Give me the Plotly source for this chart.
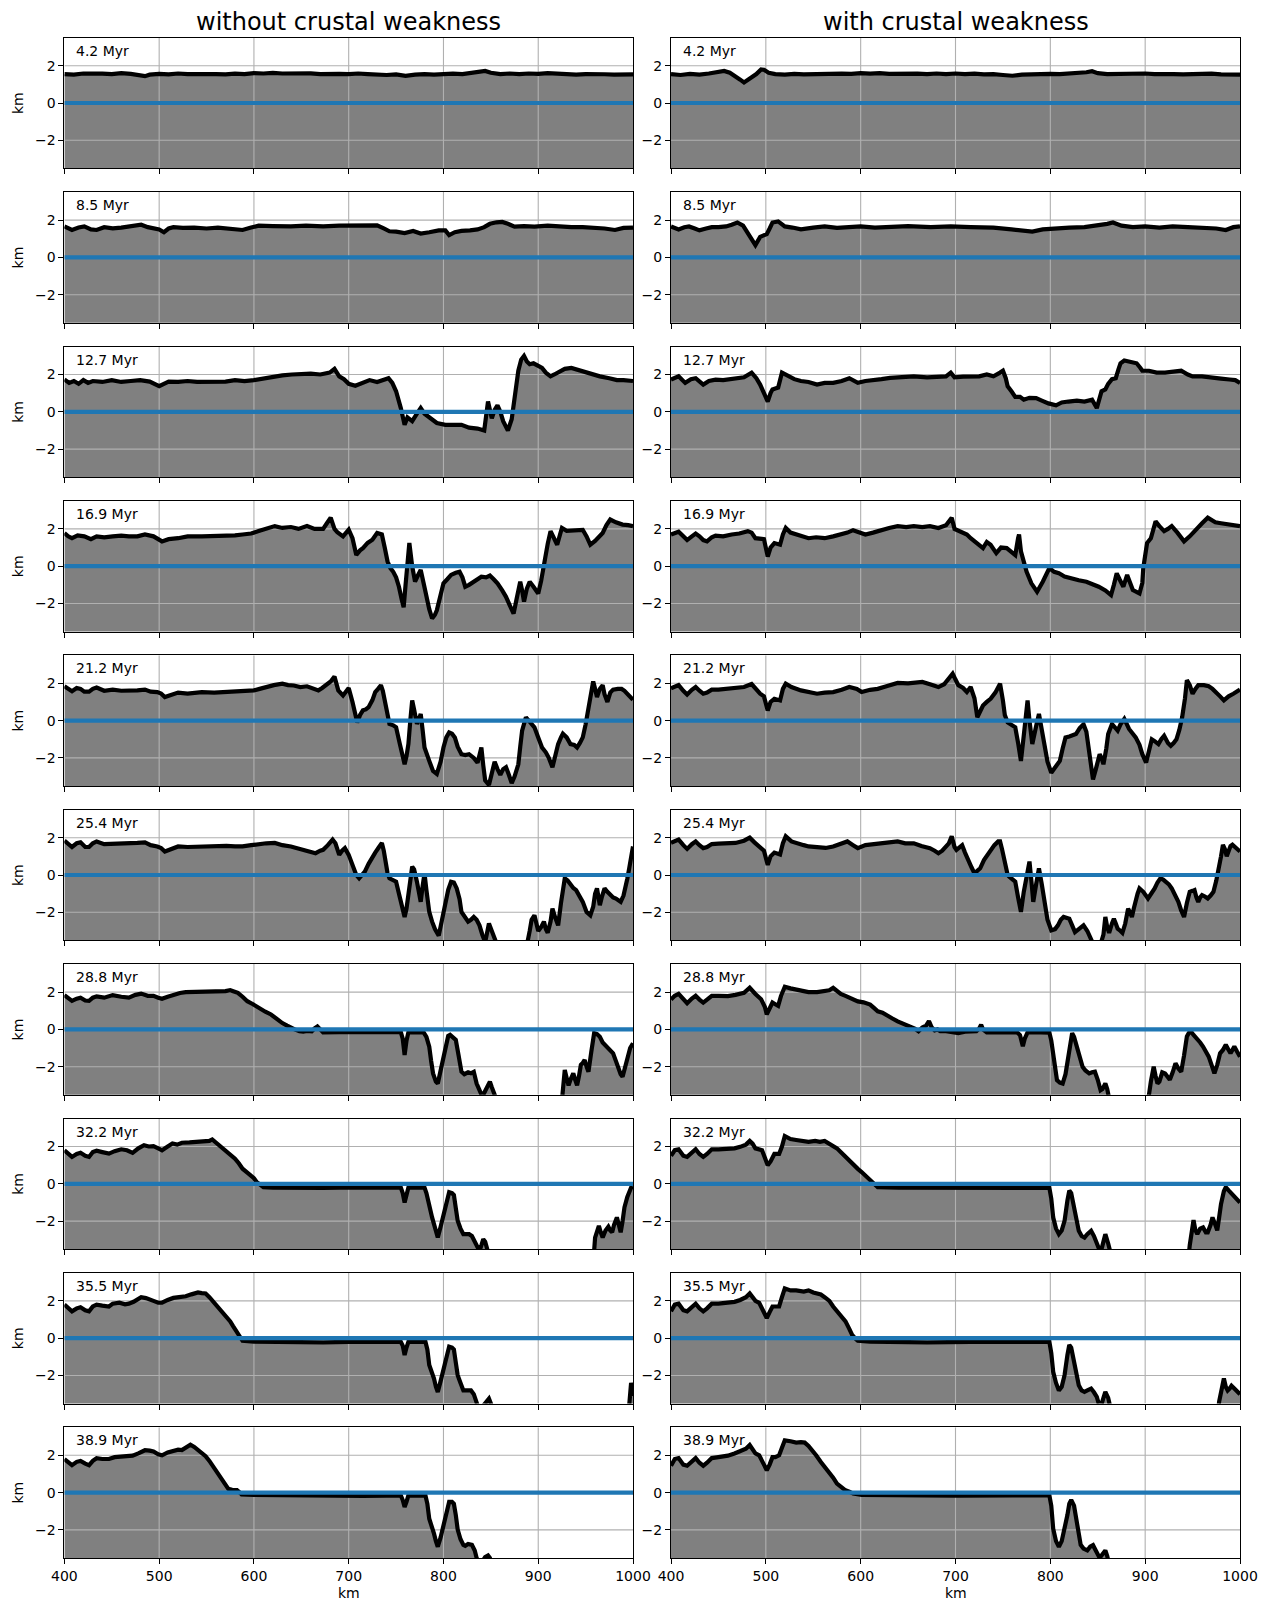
import plotly.graph_objects as go

# ---------------------------------------------------------------------------
# Topography profiles (distance km, elevation km) at successive model times
# ---------------------------------------------------------------------------
times = ["4.2 Myr", "8.5 Myr", "12.7 Myr", "16.9 Myr", "21.2 Myr",
         "25.4 Myr", "28.8 Myr", "32.2 Myr", "35.5 Myr", "38.9 Myr"]
column_titles = ["without crustal weakness", "with crustal weakness"]
x_ticks = [400, 500, 600, 700, 800, 900, 1000]
y_ticks = [-2, 0, 2]
y_ticktext = ["\u22122", "0", "2"]
sea_level = 0.0

left_4_2 = [(400,1.55),(410,1.52),(420,1.58),(430,1.55),(440,1.57),(450,1.55),(460,1.6),(470,1.56),(480,1.5),(485,1.44),(490,1.52),(500,1.56),(510,1.53),(520,1.58),(530,1.55),(540,1.56),(550,1.52),(560,1.55),(570,1.53),(580,1.57),(590,1.55),(600,1.6),(610,1.58),(620,1.61),(630,1.58),(640,1.6),(650,1.57),(660,1.59),(670,1.55),(680,1.58),(690,1.56),(700,1.55),(710,1.58),(720,1.55),(730,1.52),(740,1.5),(750,1.53),(760,1.46),(770,1.52),(780,1.55),(790,1.52),(800,1.55),(810,1.57),(820,1.55),(830,1.6),(838,1.66),(844,1.72),(850,1.62),(860,1.55),(870,1.58),(880,1.55),(890,1.58),(900,1.56),(910,1.6),(920,1.57),(930,1.55),(940,1.52),(950,1.55),(960,1.57),(970,1.54),(980,1.52),(990,1.55),(1000,1.53)]

right_4_2 = [(400,1.55),(410,1.5),(420,1.56),(430,1.52),(440,1.58),(448,1.64),(456,1.72),(462,1.62),(468,1.45),(473,1.25),(477,1.1),(481,1.22),(485,1.35),(490,1.55),(495,1.8),(498,1.78),(503,1.62),(510,1.55),(520,1.52),(530,1.56),(540,1.53),(550,1.55),(560,1.58),(570,1.55),(580,1.57),(590,1.56),(600,1.6),(610,1.57),(620,1.6),(630,1.56),(640,1.58),(650,1.55),(660,1.57),(670,1.55),(680,1.58),(690,1.55),(700,1.58),(710,1.55),(720,1.57),(730,1.53),(740,1.55),(750,1.5),(760,1.46),(770,1.52),(780,1.55),(790,1.53),(800,1.56),(810,1.55),(820,1.58),(830,1.6),(838,1.65),(844,1.7),(850,1.6),(860,1.55),(870,1.57),(880,1.54),(890,1.57),(900,1.58),(910,1.55),(920,1.57),(930,1.55),(940,1.53),(950,1.56),(960,1.55),(970,1.57),(980,1.53),(990,1.55),(1000,1.52)]

left_8_5 = [(400,1.66),(408,1.47),(415,1.6),(421,1.66),(428,1.5),(434,1.47),(442,1.62),(451,1.56),(460,1.6),(468,1.66),(475,1.7),(481,1.75),(488,1.62),(494,1.56),(500,1.5),(505,1.35),(510,1.55),(515,1.62),(525,1.58),(537,1.6),(550,1.55),(562,1.6),(575,1.55),(588,1.47),(597,1.6),(605,1.7),(620,1.68),(639,1.66),(655,1.7),(673,1.66),(690,1.7),(709,1.7),(720,1.68),(730,1.72),(737,1.55),(743,1.4),(750,1.38),(759,1.3),(768,1.42),(776,1.28),(785,1.35),(795,1.45),(802,1.45),(806,1.2),(812,1.35),(819,1.42),(828,1.45),(836,1.5),(843,1.62),(849,1.8),(856,1.88),(862,1.9),(868,1.8),(875,1.65),(885,1.68),(896,1.65),(910,1.7),(921,1.65),(935,1.62),(947,1.62),(960,1.6),(970,1.55),(981,1.47),(990,1.58),(1000,1.6)]

right_8_5 = [(400,1.66),(408,1.5),(414,1.62),(419,1.66),(425,1.55),(430,1.45),(437,1.55),(443,1.62),(450,1.62),(458,1.66),(464,1.75),(470,1.87),(476,1.7),(481,1.3),(485,1.0),(489,0.66),(494,1.1),(498,1.2),(501,1.25),(504,1.55),(507,1.87),(513,1.93),(520,1.66),(528,1.6),(537,1.5),(550,1.6),(562,1.66),(575,1.58),(588,1.62),(600,1.66),(615,1.6),(631,1.66),(650,1.68),(674,1.62),(695,1.66),(716,1.62),(740,1.6),(759,1.5),(770,1.45),(781,1.38),(792,1.5),(802,1.55),(820,1.6),(836,1.62),(850,1.7),(860,1.8),(866,1.87),(875,1.7),(887,1.62),(900,1.66),(915,1.6),(929,1.66),(945,1.62),(963,1.6),(975,1.55),(985,1.47),(993,1.62),(1000,1.66)]

left_12_7 = [(400,1.73),(405,1.55),(410,1.65),(415,1.5),(420,1.7),(425,1.55),(430,1.65),(440,1.6),(450,1.7),(460,1.6),(470,1.65),(480,1.7),(490,1.62),(500,1.37),(505,1.5),(510,1.62),(520,1.6),(530,1.65),(540,1.6),(550,1.62),(560,1.6),(570,1.62),(580,1.7),(590,1.65),(600,1.7),(610,1.8),(620,1.9),(630,1.95),(640,2.0),(650,2.02),(660,2.05),(670,2.0),(680,2.1),(685,2.3),(690,1.9),(695,1.75),(700,1.5),(707,1.4),(715,1.55),(722,1.7),(730,1.6),(737,1.7),(742,1.8),(746,1.55),(750,1.1),(755,0.2),(759,-0.7),(762,-0.3),(765,-0.45),(767,-0.5),(772,-0.1),(776,0.2),(780,-0.1),(785,-0.3),(793,-0.6),(802,-0.7),(810,-0.7),(819,-0.7),(827,-0.85),(836,-0.9),(843,-1.0),(845,-0.3),(847,0.55),(851,-0.35),(854,0.1),(857,0.35),(860,0.0),(863,-0.5),(868,-1.0),(872,-0.4),(874,0.35),(877,1.3),(879,2.2),(882,2.8),(885,3.0),(888,2.7),(891,2.55),(895,2.6),(900,2.45),(904,2.35),(908,2.1),(913,1.9),(917,2.0),(921,2.1),(928,2.3),(935,2.35),(941,2.25),(947,2.2),(955,2.05),(965,1.9),(975,1.8),(983,1.7),(990,1.7),(1000,1.65)]

right_12_7 = [(400,1.73),(408,1.9),(415,1.55),(421,1.75),(426,1.8),(430,1.6),(434,1.46),(440,1.65),(447,1.72),(455,1.7),(460,1.73),(470,1.78),(477,1.85),(485,2.1),(490,1.8),(494,1.46),(498,1.0),(502,0.55),(505,1.0),(507,1.2),(510,1.25),(513,1.3),(517,2.1),(524,1.9),(530,1.75),(537,1.65),(545,1.6),(554,1.46),(562,1.55),(571,1.55),(580,1.65),(588,1.8),(597,1.55),(605,1.65),(614,1.73),(622,1.75),(631,1.82),(645,1.85),(656,1.9),(670,1.85),(682,1.88),(690,1.9),(695,2.1),(699,1.85),(708,1.88),(716,1.88),(725,1.9),(733,2.0),(740,1.9),(747,2.1),(750,2.2),(753,1.8),(755,1.37),(759,1.1),(763,0.8),(768,0.8),(772,0.65),(778,0.75),(785,0.73),(791,0.6),(798,0.45),(806,0.35),(812,0.5),(819,0.55),(828,0.6),(836,0.55),(844,0.65),(849,0.2),(852,0.8),(854,1.1),(858,1.2),(861,1.5),(865,1.75),(869,1.8),(872,2.3),(874,2.6),(878,2.75),(882,2.7),(886,2.65),(891,2.6),(895,2.35),(897,2.2),(904,2.2),(912,2.1),(921,2.1),(930,2.15),(938,2.2),(945,2.0),(950,1.9),(960,1.9),(972,1.8),(980,1.78),(989,1.73),(995,1.7),(1000,1.55)]

left_16_9 = [(400,1.78),(404,1.6),(408,1.5),(414,1.65),(421,1.6),(428,1.45),(434,1.6),(442,1.55),(451,1.6),(460,1.64),(468,1.6),(477,1.6),(485,1.7),(494,1.6),(503,1.33),(510,1.45),(520,1.5),(530,1.6),(545,1.6),(560,1.62),(571,1.6),(580,1.65),(588,1.7),(597,1.75),(605,1.88),(614,2.0),(622,2.15),(630,2.05),(639,2.1),(647,2.0),(656,2.15),(664,2.0),(673,2.0),(677,2.3),(681,2.6),(685,2.0),(688,1.82),(694,1.6),(700,1.96),(704,1.5),(708,0.6),(712,0.85),(715,0.97),(720,1.25),(725,1.42),(730,1.78),(735,1.7),(738,1.0),(741,0.25),(744,-0.1),(747,-0.3),(750,-0.6),(753,-1.1),(756,-1.8),(758,-2.2),(760,-1.0),(762,0.4),(764,1.25),(767,0.0),(770,-0.83),(773,-0.5),(776,-0.2),(779,-0.9),(782,-1.64),(785,-2.3),(788,-2.8),(791,-2.6),(793,-2.36),(797,-1.6),(800,-0.92),(804,-0.7),(808,-0.47),(813,-0.35),(817,-0.3),(820,-0.6),(823,-1.1),(827,-1.0),(832,-0.83),(836,-0.7),(840,-0.56),(845,-0.6),(849,-0.5),(853,-0.7),(857,-0.92),(862,-1.3),(866,-1.64),(870,-2.1),(874,-2.54),(877,-1.8),(881,-0.83),(883,-1.3),(885,-1.9),(888,-1.2),(891,-0.83),(895,-1.1),(900,-1.46),(903,-0.8),(906,0.16),(910,1.2),(913,1.88),(917,1.4),(920,1.15),(923,1.7),(925,2.05),(930,1.9),(938,1.9),(947,1.95),(951,1.6),(955,1.15),(960,1.35),(965,1.6),(968,1.78),(972,2.2),(976,2.5),(982,2.35),(989,2.23),(995,2.2),(1000,2.15)]

right_16_9 = [(400,1.7),(404,1.8),(408,1.85),(413,1.6),(417,1.4),(422,1.6),(426,1.75),(430,1.6),(434,1.4),(438,1.33),(443,1.55),(447,1.64),(455,1.6),(464,1.7),(472,1.75),(481,1.88),(485,1.8),(489,1.5),(494,1.45),(498,1.45),(502,0.52),(505,1.0),(509,1.24),(515,1.15),(518,1.7),(521,2.05),(526,1.8),(532,1.7),(540,1.6),(545,1.5),(553,1.55),(562,1.5),(571,1.6),(579,1.7),(586,1.8),(592,1.93),(598,1.8),(605,1.7),(613,1.8),(622,1.95),(630,2.05),(639,2.15),(648,2.1),(656,2.15),(665,2.1),(673,2.15),(682,2.05),(690,2.2),(696,2.6),(699,2.0),(703,1.9),(707,1.85),(712,1.7),(716,1.5),(720,1.33),(725,1.1),(729,0.97),(733,1.3),(737,1.15),(743,0.7),(748,1.0),(754,0.97),(758,0.8),(763,0.6),(766,1.5),(767,1.7),(769,0.8),(771,0.43),(775,-0.3),(780,-0.92),(786,-1.37),(792,-0.83),(796,-0.4),(799,-0.1),(804,-0.3),(809,-0.38),(815,-0.55),(821,-0.65),(830,-0.75),(838,-0.83),(845,-0.95),(851,-1.1),(858,-1.3),(864,-1.55),(867,-1.0),(870,-0.38),(873,-0.7),(877,-1.1),(881,-0.47),(884,-0.9),(887,-1.28),(894,-1.46),(897,-0.9),(898,-0.1),(902,1.24),(906,1.5),(911,2.4),(915,2.15),(920,1.88),(924,2.0),(928,2.15),(934,1.8),(941,1.33),(947,1.6),(953,1.96),(960,2.3),(966,2.6),(970,2.5),(974,2.35),(980,2.3),(987,2.25),(995,2.15),(1000,2.15)]

left_21_2 = [(400,1.84),(404,1.7),(408,1.57),(413,1.75),(417,1.7),(421,1.55),(426,1.55),(430,1.7),(434,1.77),(442,1.6),(451,1.66),(460,1.6),(468,1.6),(477,1.62),(485,1.66),(491,1.55),(498,1.53),(502,1.45),(506,1.26),(513,1.4),(520,1.5),(530,1.45),(545,1.53),(558,1.5),(571,1.53),(580,1.55),(588,1.58),(600,1.62),(606,1.7),(613,1.8),(621,1.9),(630,1.98),(636,1.9),(642,1.88),(649,1.8),(656,1.84),(662,1.7),(668,1.62),(672,1.75),(676,1.88),(681,2.1),(685,2.36),(687,2.0),(689,1.62),(694,1.35),(697,1.6),(700,1.75),(704,1.0),(707,0.4),(709,-0.1),(712,0.3),(715,0.55),(718,0.6),(721,0.72),(725,1.1),(728,1.53),(731,1.7),(734,1.9),(736,1.6),(738,1.08),(741,0.3),(743,-0.18),(747,-0.25),(750,-0.36),(754,-1.26),(757,-1.9),(759,-2.34),(761,-1.9),(763,-1.26),(765,0.0),(767,1.08),(769,0.6),(772,-0.18),(775,0.2),(776,0.36),(778,-0.5),(780,-1.44),(785,-2.16),(789,-2.7),(793,-2.86),(797,-2.2),(800,-1.44),(803,-0.9),(806,-0.63),(809,-0.7),(812,-0.9),(815,-1.4),(819,-1.8),(823,-1.85),(827,-1.8),(832,-2.0),(836,-2.26),(838,-1.9),(840,-1.44),(842,-2.4),(844,-3.2),(848,-3.45),(851,-2.8),(854,-2.2),(857,-2.6),(860,-2.9),(863,-2.6),(866,-2.5),(869,-2.9),(872,-3.35),(875,-3.0),(879,-2.34),(881,-1.4),(883,-0.54),(887,0.18),(891,-0.1),(896,-0.36),(900,-0.9),(904,-1.44),(908,-1.7),(911,-1.98),(915,-2.5),(918,-1.9),(921,-1.26),(924,-0.9),(926,-0.7),(930,-0.9),(934,-1.26),(938,-1.3),(941,-1.44),(944,-1.2),(947,-0.9),(950,-0.2),(952,0.36),(955,1.2),(958,2.1),(960,1.7),(962,1.26),(965,1.7),(968,1.9),(970,1.4),(973,1.0),(976,1.5),(979,1.66),(984,1.7),(988,1.7),(991,1.6),(994,1.44),(997,1.2),(1000,1.12)]

right_21_2 = [(400,1.73),(404,1.8),(408,1.9),(413,1.6),(417,1.4),(422,1.65),(426,1.8),(430,1.6),(434,1.44),(438,1.5),(443,1.66),(450,1.66),(460,1.7),(468,1.72),(477,1.8),(485,1.96),(489,1.7),(494,1.44),(498,1.3),(502,0.54),(505,1.0),(509,1.17),(515,1.08),(518,1.7),(521,1.98),(527,1.8),(537,1.62),(545,1.55),(554,1.44),(562,1.5),(571,1.53),(580,1.65),(588,1.8),(596,1.7),(601,1.53),(610,1.65),(618,1.7),(628,1.85),(639,2.02),(650,2.0),(665,2.07),(673,1.95),(682,1.8),(688,1.95),(692,2.17),(697,2.52),(700,2.2),(703,1.9),(708,1.75),(712,1.53),(716,1.8),(720,1.2),(723,0.18),(726,0.5),(729,0.81),(733,1.0),(737,1.17),(742,1.5),(747,1.98),(750,1.08),(752,0.3),(755,-0.1),(759,-0.25),(763,-0.36),(766,-1.2),(769,-2.16),(772,-0.8),(774,0.5),(776,1.08),(778,0.0),(781,-1.26),(785,-0.3),(788,0.36),(791,-0.5),(794,-1.44),(797,-2.2),(801,-2.8),(805,-2.5),(810,-2.16),(813,-1.5),(816,-0.9),(820,-0.85),(827,-0.72),(831,-0.4),(835,-0.2),(838,-0.6),(841,-1.62),(843,-2.5),(845,-3.15),(848,-2.6),(852,-1.8),(854,-2.0),(856,-2.34),(859,-1.5),(861,-0.72),(865,-0.18),(868,-0.4),(871,-0.54),(874,-0.2),(878,0.09),(883,-0.45),(890,-0.9),(894,-1.3),(897,-1.8),(901,-2.25),(904,-1.7),(907,-1.0),(910,-1.1),(914,-1.26),(917,-1.0),(920,-0.81),(924,-1.2),(927,-1.35),(930,-1.2),(933,-1.0),(936,-0.5),(939,0.18),(942,1.2),(944,2.17),(947,1.9),(950,1.44),(953,1.7),(956,1.9),(962,1.9),(967,1.84),(971,1.7),(975,1.53),(979,1.3),(983,1.08),(988,1.3),(993,1.44),(1000,1.66)]

left_25_4 = [(400,1.84),(404,1.7),(408,1.5),(413,1.7),(417,1.75),(422,1.5),(426,1.5),(430,1.7),(434,1.8),(442,1.65),(451,1.66),(460,1.66),(468,1.66),(477,1.72),(485,1.75),(491,1.6),(498,1.53),(502,1.45),(506,1.26),(513,1.4),(520,1.53),(530,1.5),(545,1.53),(558,1.5),(571,1.56),(580,1.53),(588,1.53),(597,1.6),(605,1.66),(613,1.7),(622,1.72),(630,1.6),(639,1.53),(645,1.45),(652,1.35),(658,1.25),(665,1.17),(670,1.3),(673,1.35),(678,1.6),(683,1.9),(686,1.7),(690,1.08),(693,1.3),(696,1.44),(700,1.08),(705,0.36),(708,0.0),(711,-0.18),(714,0.0),(717,0.18),(721,0.6),(724,0.9),(728,1.2),(732,1.5),(735,1.71),(737,1.3),(739,0.54),(741,0.1),(743,-0.18),(747,-0.25),(750,-0.36),(754,-1.2),(757,-1.9),(759,-2.25),(761,-1.8),(763,-1.2),(765,-0.3),(767,0.45),(769,0.3),(772,-0.36),(774,-0.9),(776,-1.44),(778,-0.6),(780,0.09),(782,-0.8),(785,-1.98),(788,-2.5),(791,-2.9),(795,-3.25),(798,-2.5),(802,-1.44),(805,-0.8),(808,-0.36),(811,-0.4),(814,-0.72),(817,-1.3),(819,-1.98),(823,-2.3),(826,-2.5),(829,-2.4),(832,-2.25),(835,-2.4),(838,-2.7),(841,-3.2),(844,-3.6),(846,-3.1),(848,-2.6),(851,-3.0),(854,-3.5),(857,-3.9),(860,-4.2),(870,-4.3),(880,-4.3),(885,-4.0),(889,-3.5),(891,-3.0),(893,-2.4),(896,-2.16),(898,-2.6),(900,-3.0),(903,-2.8),(906,-2.5),(908,-2.9),(910,-3.1),(913,-2.5),(915,-1.8),(918,-2.3),(921,-2.7),(924,-1.5),(926,-0.6),(928,-0.18),(931,-0.3),(934,-0.54),(937,-0.7),(940,-0.81),(944,-1.2),(947,-1.44),(951,-1.98),(955,-2.16),(958,-1.7),(960,-1.0),(962,-0.72),(964,-1.2),(965,-1.62),(967,-1.2),(970,-0.72),(973,-0.9),(976,-1.08),(979,-1.2),(982,-1.26),(985,-1.35),(987,-1.44),(990,-1.1),(992,-0.72),(994,-0.2),(996,0.36),(998,0.9),(1000,1.53)]

right_25_4 = [(400,1.73),(404,1.8),(408,1.9),(413,1.6),(417,1.4),(422,1.65),(426,1.8),(430,1.6),(434,1.44),(438,1.5),(443,1.66),(450,1.68),(460,1.7),(468,1.72),(477,1.84),(483,2.0),(488,1.75),(494,1.44),(498,1.3),(502,0.54),(505,1.0),(509,1.2),(515,1.1),(518,1.7),(521,2.07),(527,1.8),(532,1.7),(540,1.6),(545,1.53),(555,1.5),(563,1.45),(571,1.53),(579,1.65),(586,1.8),(592,1.6),(597,1.44),(605,1.6),(614,1.66),(625,1.7),(632,1.75),(639,1.8),(647,1.7),(656,1.7),(664,1.55),(673,1.44),(678,1.3),(682,1.17),(686,1.3),(690,1.5),(693,1.7),(696,2.07),(699,1.5),(701,1.35),(705,1.5),(707,1.6),(710,1.2),(714,0.81),(717,0.4),(720,0.09),(723,0.25),(726,0.36),(730,0.8),(734,1.1),(738,1.4),(741,1.6),(745,1.8),(747,1.8),(749,1.4),(752,0.8),(755,0.0),(757,-0.1),(760,-0.25),(763,-0.36),(766,-1.2),(769,-1.98),(772,-0.9),(774,-0.3),(776,0.3),(778,0.72),(780,-0.3),(782,-1.44),(785,-0.5),(788,0.36),(791,-0.5),(794,-1.44),(797,-2.4),(801,-2.97),(805,-2.9),(808,-2.7),(811,-2.4),(814,-2.25),(817,-2.3),(820,-2.34),(823,-2.7),(826,-3.06),(830,-2.9),(835,-2.7),(839,-3.0),(842,-3.4),(845,-3.7),(847,-3.9),(850,-3.8),(853,-3.7),(856,-3.2),(858,-2.25),(860,-2.8),(862,-3.1),(865,-2.6),(867,-2.34),(869,-2.6),(871,-2.88),(874,-3.0),(876,-3.1),(879,-2.6),(882,-1.8),(884,-2.0),(886,-2.25),(888,-1.8),(890,-1.35),(892,-1.0),(894,-0.72),(898,-0.9),(903,-1.26),(907,-1.0),(910,-0.72),(913,-0.4),(916,-0.18),(919,-0.25),(922,-0.36),(925,-0.5),(928,-0.72),(931,-1.0),(935,-1.44),(938,-1.9),(941,-2.25),(944,-1.5),(947,-0.9),(950,-0.85),(952,-0.81),(954,-1.2),(956,-1.44),(958,-1.2),(960,-1.08),(963,-1.15),(966,-1.26),(969,-1.1),(972,-0.9),(975,-0.3),(977,0.36),(980,1.0),(982,1.62),(984,1.4),(986,1.0),(988,1.3),(990,1.55),(992,1.62),(996,1.4),(1000,1.26)]

left_28_8 = [(400,1.84),(404,1.7),(408,1.53),(413,1.65),(417,1.7),(422,1.55),(426,1.53),(430,1.7),(434,1.77),(442,1.7),(451,1.84),(460,1.75),(468,1.7),(475,1.85),(481,1.92),(488,1.8),(494,1.8),(499,1.7),(503,1.64),(509,1.75),(515,1.85),(522,1.95),(528,2.0),(537,2.0),(545,2.0),(554,2.02),(562,2.05),(570,2.05),(575,2.1),(579,2.05),(583,1.96),(588,1.75),(593,1.51),(599,1.35),(605,1.15),(612,0.95),(618,0.8),(624,0.55),(630,0.34),(635,0.2),(639,0.07),(643,0.0),(648,-0.1),(652,-0.12),(656,-0.08),(661,-0.1),(664,0.05),(667,0.16),(670,0.0),(673,-0.16),(690,-0.15),(710,-0.16),(730,-0.15),(745,-0.16),(755,-0.15),(757,-0.5),(759,-1.37),(761,-0.6),(763,-0.16),(770,-0.15),(779,-0.16),(782,-0.4),(785,-0.92),(787,-1.7),(789,-2.36),(792,-2.8),(794,-2.9),(797,-2.2),(800,-1.46),(803,-0.7),(805,-0.35),(807,-0.29),(810,-0.4),(813,-0.56),(816,-1.4),(819,-2.27),(822,-2.4),(826,-2.3),(829,-2.35),(832,-2.27),(835,-2.9),(839,-3.44),(841,-3.6),(844,-3.3),(847,-2.95),(849,-2.8),(851,-3.1),(854,-3.5),(856,-3.9),(860,-4.3),(880,-4.3),(900,-4.3),(922,-4.3),(925,-3.8),(926,-3.4),(928,-2.18),(930,-2.6),(932,-3.0),(934,-2.7),(937,-2.36),(939,-2.7),(941,-3.0),(943,-2.5),(945,-1.9),(947,-1.8),(949,-1.64),(951,-2.0),(953,-2.27),(956,-1.2),(959,-0.2),(962,-0.25),(965,-0.4),(968,-0.7),(972,-0.92),(975,-1.1),(979,-1.28),(982,-1.7),(985,-2.18),(987,-2.4),(989,-2.54),(991,-2.1),(994,-1.46),(997,-1.0),(1000,-0.74)]

right_28_8 = [(400,1.6),(404,1.8),(408,1.9),(413,1.6),(417,1.4),(422,1.65),(426,1.8),(430,1.6),(434,1.44),(438,1.6),(443,1.8),(450,1.8),(460,1.78),(468,1.85),(477,1.96),(483,2.23),(486,2.1),(489,1.9),(495,1.62),(499,1.2),(501,0.8),(504,1.1),(507,1.44),(510,1.35),(513,1.26),(516,1.8),(520,2.29),(526,2.2),(532,2.15),(540,2.05),(545,2.0),(554,2.0),(562,2.05),(567,2.1),(571,2.23),(575,2.05),(579,1.9),(584,1.8),(588,1.7),(592,1.6),(597,1.5),(603,1.45),(610,1.33),(614,1.15),(618,0.97),(623,0.9),(627,0.8),(633,0.6),(639,0.43),(645,0.3),(652,0.16),(657,0.05),(661,-0.1),(665,0.1),(669,0.2),(672,0.45),(675,0.1),(678,-0.05),(681,0.0),(684,-0.1),(690,-0.1),(695,-0.12),(703,-0.2),(710,-0.12),(716,-0.1),(722,-0.1),(725,0.05),(727,0.25),(729,0.0),(733,-0.16),(750,-0.16),(765,-0.16),(768,-0.3),(771,-0.9),(773,-0.5),(776,-0.16),(790,-0.16),(799,-0.17),(801,-0.6),(803,-1.46),(805,-2.2),(807,-2.72),(810,-2.85),(813,-2.9),(816,-2.4),(819,-1.5),(821,-0.6),(823,-0.2),(825,-0.4),(828,-0.92),(831,-1.5),(834,-2.0),(837,-2.2),(841,-2.36),(844,-2.3),(847,-2.27),(850,-2.7),(853,-3.26),(855,-3.2),(858,-2.9),(860,-3.2),(862,-3.7),(864,-4.2),(880,-4.3),(900,-4.3),(902,-3.8),(904,-3.5),(906,-2.8),(909,-2.0),(911,-2.5),(913,-2.9),(915,-2.8),(918,-2.3),(921,-2.36),(924,-2.6),(926,-2.7),(929,-2.3),(932,-1.82),(935,-2.1),(938,-2.27),(941,-1.4),(944,-0.38),(946,-0.2),(948,-0.1),(951,-0.3),(954,-0.45),(958,-0.7),(961,-0.92),(964,-1.2),(967,-1.46),(970,-1.9),(973,-2.36),(976,-1.9),(979,-1.28),(982,-1.1),(985,-0.83),(988,-1.1),(990,-1.28),(992,-1.1),(994,-0.92),(997,-1.2),(1000,-1.46)]

left_32_2 = [(400,1.8),(404,1.6),(408,1.44),(413,1.6),(417,1.66),(422,1.5),(426,1.44),(430,1.7),(434,1.77),(440,1.7),(447,1.62),(453,1.75),(460,1.85),(466,1.8),(472,1.66),(478,1.9),(484,2.07),(489,2.0),(494,2.02),(499,1.9),(503,1.8),(509,2.0),(514,2.16),(519,2.1),(524,2.2),(532,2.22),(541,2.25),(548,2.28),(553,2.3),(556,2.38),(559,2.25),(562,2.1),(567,1.9),(571,1.7),(575,1.5),(580,1.35),(584,1.1),(588,0.81),(593,0.6),(597,0.45),(600,0.3),(603,0.09),(606,-0.05),(610,-0.18),(620,-0.2),(640,-0.22),(660,-0.2),(673,-0.22),(690,-0.2),(710,-0.22),(730,-0.2),(745,-0.2),(755,-0.2),(757,-0.5),(759,-1.0),(761,-0.5),(763,-0.2),(770,-0.2),(780,-0.2),(782,-0.5),(785,-1.26),(788,-1.8),(790,-2.16),(792,-2.6),(794,-2.88),(797,-2.3),(800,-1.62),(803,-0.9),(806,-0.45),(809,-0.5),(811,-0.6),(813,-1.3),(815,-1.98),(818,-2.4),(821,-2.7),(824,-2.7),(827,-2.7),(830,-2.8),(834,-3.24),(838,-3.6),(840,-3.3),(842,-2.97),(844,-3.1),(846,-3.4),(848,-3.7),(850,-4.2),(900,-4.3),(958,-4.3),(960,-2.88),(962,-2.6),(964,-2.25),(966,-2.6),(968,-2.88),(971,-2.5),(974,-2.3),(976,-2.5),(978,-2.6),(980,-2.2),(983,-1.8),(985,-2.2),(987,-2.6),(989,-2.0),(991,-1.26),(994,-0.7),(996,-0.36),(998,-0.2),(1000,-0.18)]

right_32_2 = [(400,1.5),(404,1.8),(408,1.85),(413,1.5),(417,1.44),(422,1.7),(426,1.85),(430,1.6),(434,1.44),(438,1.6),(443,1.85),(450,1.85),(460,1.85),(467,1.9),(473,1.98),(479,2.1),(483,2.3),(486,2.15),(489,1.9),(496,1.8),(499,1.4),(502,1.0),(505,1.2),(509,1.6),(514,1.6),(517,2.0),(520,2.56),(526,2.4),(532,2.35),(540,2.3),(545,2.25),(552,2.3),(557,2.25),(562,2.3),(567,2.15),(571,2.0),(575,1.9),(580,1.65),(584,1.44),(588,1.2),(592,1.0),(597,0.8),(601,0.63),(606,0.4),(610,0.18),(614,0.0),(618,-0.18),(640,-0.2),(674,-0.2),(716,-0.22),(750,-0.2),(771,-0.25),(775,-0.2),(790,-0.2),(799,-0.22),(801,-0.8),(803,-1.8),(806,-2.4),(809,-2.7),(812,-2.5),(815,-1.98),(818,-0.9),(820,-0.36),(822,-0.5),(826,-1.44),(828,-2.0),(830,-2.52),(833,-2.8),(836,-2.88),(839,-2.7),(843,-2.52),(846,-2.8),(849,-3.15),(851,-3.5),(853,-3.7),(856,-3.1),(858,-2.7),(861,-3.2),(864,-3.7),(866,-4.2),(900,-4.3),(945,-4.3),(947,-3.3),(949,-2.6),(951,-1.95),(953,-2.5),(955,-2.7),(958,-2.4),(961,-2.34),(964,-2.6),(966,-2.6),(969,-2.2),(971,-1.8),(974,-2.2),(976,-2.5),(978,-1.8),(980,-1.08),(983,-0.4),(985,-0.18),(988,-0.35),(990,-0.45),(994,-0.65),(997,-0.8),(1000,-1.0)]

left_35_5 = [(400,1.8),(404,1.6),(408,1.44),(413,1.6),(417,1.66),(422,1.5),(426,1.44),(430,1.7),(434,1.8),(440,1.75),(447,1.7),(451,1.85),(458,1.9),(464,1.82),(468,1.85),(473,1.95),(477,2.1),(481,2.2),(486,2.15),(490,2.05),(494,2.0),(499,1.9),(503,1.9),(509,2.05),(515,2.16),(521,2.2),(528,2.25),(534,2.35),(541,2.45),(545,2.42),(549,2.4),(553,2.2),(558,1.9),(562,1.7),(567,1.44),(571,1.2),(575,0.9),(578,0.65),(582,0.36),(585,0.1),(588,-0.14),(600,-0.18),(620,-0.2),(650,-0.2),(673,-0.22),(700,-0.2),(730,-0.2),(755,-0.2),(757,-0.4),(759,-0.9),(761,-0.5),(763,-0.2),(781,-0.2),(783,-0.6),(785,-1.44),(788,-1.8),(790,-2.16),(792,-2.6),(794,-2.88),(797,-2.3),(800,-1.62),(803,-0.9),(806,-0.45),(809,-0.5),(811,-0.6),(813,-1.3),(815,-1.98),(818,-2.4),(821,-2.8),(825,-2.8),(829,-2.8),(832,-3.0),(836,-3.6),(839,-3.8),(842,-3.6),(845,-3.4),(848,-3.24),(850,-3.5),(852,-3.9),(855,-4.3),(900,-4.3),(994,-4.3),(996,-3.6),(997,-2.88),(998,-2.4),(999,-2.6),(1000,-3.1)]

right_35_5 = [(400,1.44),(404,1.8),(408,1.85),(413,1.5),(417,1.44),(422,1.7),(426,1.85),(430,1.6),(434,1.44),(438,1.6),(443,1.85),(450,1.85),(460,1.88),(467,1.95),(473,2.05),(479,2.2),(483,2.4),(486,2.2),(489,2.0),(493,1.9),(496,1.6),(499,1.3),(501,1.08),(504,1.4),(507,1.7),(510,1.7),(514,1.7),(517,2.2),(520,2.67),(526,2.56),(532,2.56),(540,2.5),(545,2.56),(550,2.45),(555,2.4),(558,2.34),(562,2.2),(567,2.0),(571,1.7),(575,1.44),(580,1.15),(584,0.9),(588,0.5),(591,0.18),(594,0.0),(597,-0.14),(610,-0.18),(631,-0.2),(670,-0.22),(716,-0.2),(760,-0.22),(790,-0.2),(799,-0.2),(801,-0.8),(803,-1.8),(806,-2.4),(809,-2.8),(812,-2.6),(815,-1.98),(818,-0.9),(820,-0.36),(822,-0.5),(826,-1.44),(828,-2.0),(830,-2.52),(833,-2.8),(836,-2.88),(839,-2.8),(843,-2.7),(846,-2.9),(849,-3.15),(851,-3.5),(853,-3.7),(856,-3.2),(858,-2.88),(861,-3.2),(864,-3.7),(866,-4.3),(900,-4.3),(976,-4.3),(978,-3.4),(980,-2.8),(983,-2.16),(985,-2.6),(987,-2.8),(989,-2.7),(991,-2.55),(994,-2.7),(996,-2.8),(998,-2.9),(1000,-3.0)]

left_38_9 = [(400,1.8),(404,1.6),(408,1.47),(413,1.65),(417,1.7),(422,1.55),(426,1.47),(430,1.7),(434,1.84),(440,1.8),(447,1.8),(453,1.9),(460,1.92),(466,1.95),(472,1.98),(478,2.1),(485,2.27),(490,2.25),(494,2.2),(499,2.05),(503,2.0),(509,2.15),(515,2.25),(520,2.3),(524,2.28),(528,2.4),(533,2.57),(537,2.45),(541,2.28),(545,2.1),(549,1.95),(553,1.7),(558,1.3),(562,1.0),(567,0.6),(570,0.35),(573,0.2),(577,0.15),(582,0.14),(585,0.0),(587,-0.1),(600,-0.12),(631,-0.15),(660,-0.15),(700,-0.17),(715,-0.18),(740,-0.17),(755,-0.15),(757,-0.4),(759,-0.77),(761,-0.5),(763,-0.15),(781,-0.16),(783,-0.6),(785,-1.4),(788,-1.8),(790,-2.2),(792,-2.6),(794,-2.9),(797,-2.4),(800,-1.8),(803,-1.2),(806,-0.5),(809,-0.5),(811,-0.6),(813,-1.2),(815,-1.98),(818,-2.5),(821,-2.8),(823,-2.85),(826,-2.75),(830,-2.8),(833,-3.1),(835,-3.5),(838,-3.8),(841,-3.7),(844,-3.45),(847,-3.37),(849,-3.5),(851,-3.9),(853,-4.3),(1000,-4.3)]

right_38_9 = [(400,1.44),(404,1.8),(408,1.85),(413,1.5),(417,1.44),(422,1.7),(426,1.85),(430,1.6),(434,1.44),(438,1.6),(443,1.85),(450,1.9),(460,1.98),(467,2.1),(473,2.2),(479,2.35),(483,2.55),(486,2.35),(489,2.1),(493,2.0),(496,1.7),(499,1.3),(501,1.2),(504,1.5),(507,1.9),(510,1.9),(514,2.0),(517,2.4),(520,2.8),(526,2.75),(532,2.68),(537,2.7),(541,2.68),(545,2.5),(549,2.27),(553,2.0),(558,1.64),(562,1.4),(567,1.1),(571,0.8),(575,0.48),(580,0.3),(584,0.12),(588,0.05),(592,-0.05),(601,-0.12),(640,-0.15),(700,-0.16),(760,-0.15),(790,-0.16),(799,-0.15),(801,-0.7),(803,-1.93),(806,-2.6),(809,-2.9),(812,-2.6),(815,-2.0),(818,-1.2),(820,-0.6),(822,-0.4),(825,-0.7),(828,-1.44),(830,-2.2),(832,-2.8),(835,-3.0),(839,-3.1),(842,-2.9),(845,-2.82),(848,-3.1),(852,-3.5),(855,-3.3),(858,-3.1),(860,-3.4),(862,-3.9),(864,-4.3),(1000,-4.3)]

left_profiles = [left_4_2, left_8_5, left_12_7, left_16_9, left_21_2,
                 left_25_4, left_28_8, left_32_2, left_35_5, left_38_9]
right_profiles = [right_4_2, right_8_5, right_12_7, right_16_9, right_21_2,
                  right_25_4, right_28_8, right_32_2, right_35_5, right_38_9]

# ---------------------------------------------------------------------------
# Figure geometry (pixels)
# ---------------------------------------------------------------------------
W, H = 1268, 1603
col_px = [(64.4, 633.0), (671.0, 1240.0)]
row_top0, row_step, row_h = 37.7, 154.4, 130.6
x_range = [400, 1000]
y_range = [-3.5, 3.5]
floor = -10.0

FONT = "DejaVu Sans"
FILL = "#808080"
GRID = "#b0b0b0"
BLUE = "#1f77b4"

fig = go.Figure()
layout = dict(
    template="none",
    width=W, height=H,
    margin=dict(l=0, r=0, t=0, b=0, autoexpand=False),
    paper_bgcolor="white", plot_bgcolor="white",
    showlegend=False,
    font=dict(family=FONT, size=14, color="black"),
)
annotations = []

# grid line coordinates built from the tick positions
grid_x, grid_y = [], []
for t in x_ticks[1:-1]:
    grid_x += [t, t, None]
    grid_y += [y_range[0], y_range[1], None]
for t in y_ticks:
    grid_x += [x_range[0], x_range[1], None]
    grid_y += [t, t, None]

n_rows = len(times)
k = 0
for row in range(n_rows):
    top = row_top0 + row * row_step
    y_dom = [1 - (top + row_h) / H, 1 - top / H]
    for col, profiles in enumerate([left_profiles, right_profiles]):
        k += 1
        xs = [p[0] for p in profiles[row]]
        ys = [p[1] for p in profiles[row]]
        xa = "x" if k == 1 else f"x{k}"
        ya = "y" if k == 1 else f"y{k}"
        xkey = "xaxis" if k == 1 else f"xaxis{k}"
        ykey = "yaxis" if k == 1 else f"yaxis{k}"
        x0, x1 = col_px[col]

        # filled body beneath the surface
        fig.add_trace(go.Scatter(x=[xs[0], xs[-1]], y=[floor, floor], mode="lines",
                                 line=dict(width=0), hoverinfo="skip",
                                 xaxis=xa, yaxis=ya))
        fig.add_trace(go.Scatter(x=xs, y=ys, mode="lines", line=dict(width=0),
                                 fill="tonexty", fillcolor=FILL, hoverinfo="skip",
                                 xaxis=xa, yaxis=ya))
        # grid drawn above the fill, below the lines
        fig.add_trace(go.Scatter(x=grid_x, y=grid_y, mode="lines",
                                 line=dict(color=GRID, width=1.1), hoverinfo="skip",
                                 xaxis=xa, yaxis=ya))
        # surface profile
        fig.add_trace(go.Scatter(x=xs, y=ys, mode="lines",
                                 line=dict(color="black", width=4.2),
                                 xaxis=xa, yaxis=ya))
        # sea level
        fig.add_trace(go.Scatter(x=x_range, y=[sea_level, sea_level], mode="lines",
                                 line=dict(color=BLUE, width=4.2),
                                 xaxis=xa, yaxis=ya))

        bottom = row == n_rows - 1
        layout[xkey] = dict(
            domain=[x0 / W, x1 / W], range=x_range, anchor=ya, automargin=False,
            tickmode="array", tickvals=x_ticks, showticklabels=bottom,
            ticks="outside", ticklen=5, tickwidth=1.1, tickcolor="black",
            showgrid=False, zeroline=False, showline=True, mirror=True,
            linecolor="black", linewidth=1.1, fixedrange=True,
            tickfont=dict(family=FONT, size=14, color="black"),
        )
        layout[ykey] = dict(
            domain=y_dom, range=y_range, anchor=xa, automargin=False,
            tickmode="array", tickvals=y_ticks, ticktext=y_ticktext,
            ticks="outside", ticklen=5, tickwidth=1.1, tickcolor="black",
            showgrid=False, zeroline=False, showline=True, mirror=True,
            linecolor="black", linewidth=1.1, fixedrange=True,
            tickfont=dict(family=FONT, size=14, color="black"),
        )

        # time stamp in the upper-left corner
        annotations.append(dict(
            text=times[row], xref="paper", yref="paper",
            x=(x0 + 9.5) / W, y=1 - (top + 13) / H,
            xanchor="left", yanchor="middle", showarrow=False,
            font=dict(family=FONT, size=14, color="black"),
        ))
        if col == 0:
            annotations.append(dict(
                text="km", xref="paper", yref="paper",
                x=18 / W, y=1 - (top + row_h / 2) / H, textangle=-90,
                xanchor="center", yanchor="middle", showarrow=False,
                font=dict(family=FONT, size=14, color="black"),
            ))

for col, (x0, x1) in enumerate(col_px):
    annotations.append(dict(
        text=column_titles[col], xref="paper", yref="paper",
        x=(x0 + x1) / 2 / W, y=1 - 21.7 / H,
        xanchor="center", yanchor="middle", showarrow=False,
        font=dict(family=FONT, size=24, color="black"),
    ))
    annotations.append(dict(
        text="km", xref="paper", yref="paper",
        x=(x0 + x1) / 2 / W, y=1 - 1593 / H,
        xanchor="center", yanchor="middle", showarrow=False,
        font=dict(family=FONT, size=14, color="black"),
    ))

layout["annotations"] = annotations
fig.update_layout(**layout)
fig.write_html("out.html")
